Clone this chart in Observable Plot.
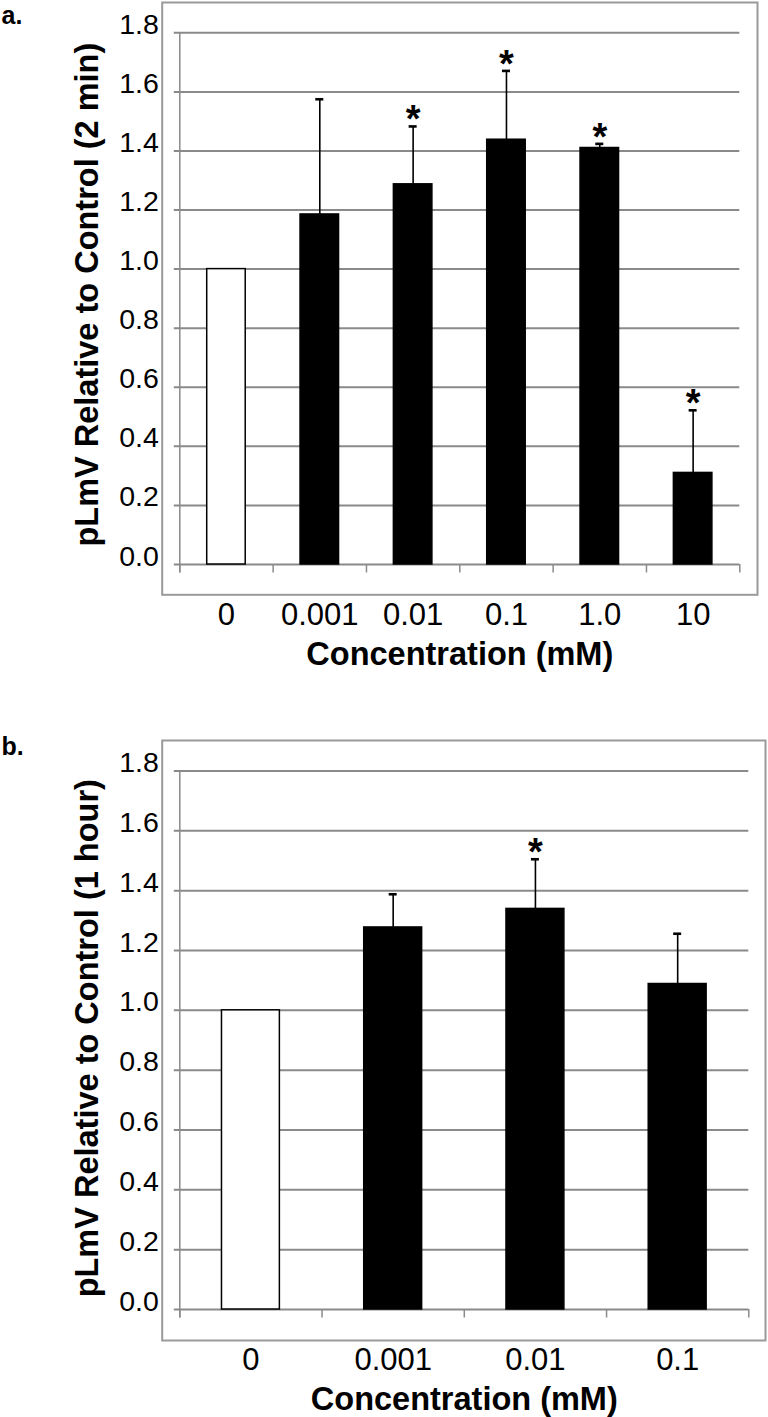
<!DOCTYPE html>
<html>
<head>
<meta charset="utf-8">
<script src="https://cdn.jsdelivr.net/npm/d3@7"></script>
<script src="https://cdn.jsdelivr.net/npm/@observablehq/plot@0.6"></script>
<style>
  html, body { margin: 0; padding: 0; background: #fff; }
  #chart { width: 768px; }
  #chart svg { display: block; }
</style>
</head>
<body>
<div id="chart"></div>
<script>
// ---- Data ----
const catsA = ["0", "0.001", "0.01", "0.1", "1.0", "10"];
const valsA = [1.0, 1.185, 1.287, 1.438, 1.410, 0.310];
const errsA = [0, 0.390, 0.196, 0.233, 0.014, 0.212];
const sigA  = [false, false, true, true, true, true];

const catsB = ["0", "0.001", "0.01", "0.1"];
const valsB = [1.0, 1.277, 1.339, 1.088];
const errsB = [0, 0.111, 0.166, 0.168];
const sigB  = [false, false, true, false];

const yTicks = [0, 0.2, 0.4, 0.6, 0.8, 1.0, 1.2, 1.4, 1.6, 1.8];
const xTitle = "Concentration (mM)";
const yTitleA = "pLmV Relative to Control (2 min)";
const yTitleB = "pLmV Relative to Control (1 hour)";

const FONT = "'Liberation Sans', Arial, Helvetica, sans-serif";
const GRID = "#8a8a8a";
const FRAME = "#9a9a9a";

function panel(cfg) {
  const {cats, vals, errs, sig, yTitle, label, height, marginTop, marginBottom,
         marginLeft, marginRight, barWidth, frameInset, yTitleDy, labelDy, tickDy} = cfg;
  const n = cats.length;
  const width = 768;
  const step = (width - marginLeft - marginRight) / n;
  const inset = (step - barWidth) / 2;
  const capHalf = 4 / step;
  const data = cats.map((c, i) => ({i, cat: c, value: vals[i], err: errs[i], sig: sig[i]}));
  const errData = data.filter(d => d.err > 0);
  const sigData = data.filter(d => d.sig);
  const bounds = d3.range(n + 1).map(k => k - 0.5);
  const top = yTicks[yTicks.length - 1];

  return Plot.plot({
    width, height, marginTop, marginBottom, marginLeft, marginRight,
    style: {fontFamily: FONT, color: "#000", background: "#fff", overflow: "visible"},
    x: {type: "linear", domain: [-0.5, n - 0.5], axis: null},
    y: {domain: [0, top], axis: null},
    marks: [
      // outer gray frame
      Plot.frame({stroke: FRAME, strokeWidth: 2,
        insetLeft: frameInset.left, insetRight: frameInset.right,
        insetTop: frameInset.top, insetBottom: frameInset.bottom}),
      // horizontal gridlines (extend left as tick marks)
      Plot.ruleY(yTicks, {y: d => d, stroke: GRID, strokeWidth: 2, insetLeft: -5.5}),
      // y axis line
      Plot.ruleX([-0.5], {x: d => d, y1: top, y2: 0, stroke: GRID, strokeWidth: 1.5, insetBottom: -8.5}),
      // x tick marks at category boundaries
      Plot.ruleX(bounds, {x: d => d, y1: 0, y2: 0, stroke: GRID, strokeWidth: 1.5, insetBottom: -8.5}),
      // bars
      Plot.rectY(data, {
        x1: d => d.i - 0.5, x2: d => d.i + 0.5, y1: 0, y2: "value",
        insetLeft: inset, insetRight: inset,
        fill: d => d.i === 0 ? "#fff" : "#000",
        stroke: "#000", strokeWidth: 1.5
      }),
      // error bars
      Plot.ruleX(errData, {x: "i", y1: "value", y2: d => d.value + d.err, stroke: "#000", strokeWidth: 1.6}),
      Plot.ruleY(errData, {x1: d => d.i - capHalf, x2: d => d.i + capHalf, y: d => d.value + d.err, stroke: "#000", strokeWidth: 2.6}),
      // significance asterisks
      Plot.text(sigData, {x: "i", y: d => d.value + d.err, text: () => "*",
        fontSize: 38, fontWeight: "bold", lineAnchor: "bottom", dy: 6, fill: "#000"}),
      // y tick labels
      Plot.text(yTicks, {y: d => d, text: d => d3.format(".1f")(d), frameAnchor: "left",
        textAnchor: "end", lineAnchor: "bottom", dx: -21, dy: tickDy, fontSize: 28.5, fill: "#000"}),
      // x tick labels
      Plot.text(data, {x: "i", y: 0, text: "cat", lineAnchor: "bottom", dy: 60, fontSize: 31, fill: "#000"}),
      // x title
      Plot.text([xTitle], {frameAnchor: "bottom", text: d => d, lineAnchor: "bottom", dy: 100,
        fontSize: 32.5, fontWeight: "bold", fill: "#000"}),
      // y title
      Plot.text([yTitle], {frameAnchor: "left", text: d => d, rotate: -90, textAnchor: "middle", lineAnchor: "middle",
        dx: 87 - marginLeft, dy: yTitleDy, fontSize: 32.5, fontWeight: "bold", fill: "#000"}),
      // panel label
      Plot.text([label], {frameAnchor: "top-left", text: d => d, textAnchor: "start", lineAnchor: "bottom",
        dx: 1 - marginLeft, dy: labelDy, fontSize: 25, fontWeight: "bold", fill: "#000"})
    ]
  });
}

const chart = document.getElementById("chart");
chart.append(panel({
  cats: catsA, vals: valsA, errs: errsA, sig: sigA, yTitle: yTitleA, label: "a.",
  height: 690, marginTop: 32.3, marginBottom: 126, marginLeft: 179.3, marginRight: 28.7,
  barWidth: 38.5,
  frameInset: {left: -17.6, right: -17.7, top: -30.3, bottom: -30.3},
  yTitleDy: -4, labelDy: 23.5 - 32.3, tickDy: 1
}));
chart.append(panel({
  cats: catsB, vals: valsB, errs: errsB, sig: sigB, yTitle: yTitleB, label: "b.",
  height: 727, marginTop: 80.5, marginBottom: 108, marginLeft: 179.3, marginRight: 19.7,
  barWidth: 57.9,
  frameInset: {left: -17.6, right: -16.7, top: -30.5, bottom: -31},
  yTitleDy: -2, labelDy: 64 - 80.5, tickDy: 1
}));
</script>
</body>
</html>
